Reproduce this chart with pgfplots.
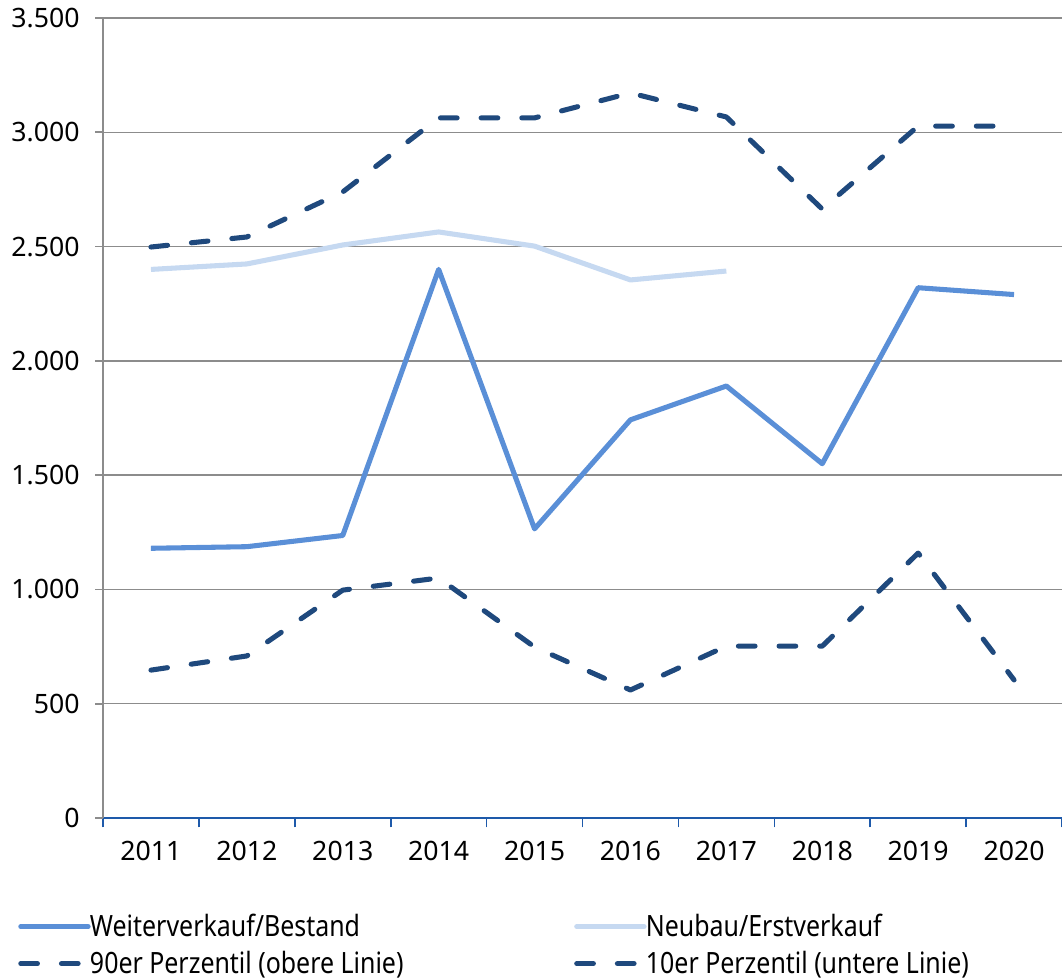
\documentclass[border=0pt]{standalone}
\usepackage{pgfplots}
\pgfplotsset{compat=1.18}
\usepackage{fontspec}
\setmainfont{Noto Sans}
\newfontfamily\legfont[FakeStretch=0.85]{Noto Sans}
\definecolor{weiter}{RGB}{90,143,215}
\definecolor{neubau}{RGB}{198,217,241}
\definecolor{perz}{RGB}{31,73,125}
\definecolor{xax}{RGB}{30,90,170}
\definecolor{gridc}{RGB}{140,140,140}
\begin{document}
\begin{tikzpicture}[x=1pt,y=1pt]
\path[use as bounding box] (0,0) rectangle (796.5,734.25);
\begin{axis}[
  at={(77.25pt,120.75pt)}, anchor=south west,
  scale only axis, width=719.25pt, height=600pt,
  xmin=0.5, xmax=10.5, ymin=0, ymax=3500,
  axis x line*=bottom, axis y line*=left,
  x axis line style={draw=xax, line width=1.5pt},
  y axis line style={draw=gridc, line width=1.2pt},
  xtick={1,...,10},
  xticklabels={2011,2012,2013,2014,2015,2016,2017,2018,2019,2020},
  major x tick style={draw=none},
  minor xtick={0.5,1.5,...,10.5},
  minor x tick style={draw=xax, line width=1.2pt},
  minor tick length=7pt,
  xtick align=outside,
  ytick={0,500,...,3500},
  ytick align=outside,
  major tick length=6pt,
  y tick style={draw=gridc, line width=1.2pt},
  ymajorgrids,
  grid style={draw=gridc, line width=1pt},
  tick label style={font=\fontsize{20}{24}\selectfont, text=black},
  xticklabel style={yshift=-8pt},
  yticklabel style={xshift=-8pt},
  /pgf/number format/1000 sep={.},
  /pgf/number format/assume math mode=true,
  legend columns=2,
  legend cell align=left,
  legend style={at={(rel axis cs:-0.1074,-0.1135)}, anchor=north west, draw=none, fill=none,
    font=\legfont\fontsize{22}{26}\selectfont, row sep=5.5pt,
    /tikz/every odd column/.append style={column sep=-2.5pt},
    /tikz/every even column/.append style={column sep=115.5pt}},
  legend image code/.code={\path (0pt,0pt); \draw[#1, line cap=round] (10.5pt,0pt) -- (61pt,0pt);},
  clip=false,
]
\addplot[weiter, line width=3.8pt, line join=round] coordinates {
 (1,1180) (2,1187) (3,1236) (4,2400) (5,1265) (6,1742) (7,1890) (8,1550) (9,2320) (10,2290)};
\addlegendentry{Weiterverkauf/Bestand}
\addplot[neubau, line width=3.8pt, line join=round] coordinates {
 (1,2400) (2,2424) (3,2507) (4,2564) (5,2502) (6,2354) (7,2393)};
\addlegendentry{Neubau/Erstverkauf}
\addplot[perz, line width=3.8pt, line cap=round, line join=round, dash pattern=on 12.5pt off 18pt] coordinates {
 (1,2498) (2,2542) (3,2739) (4,3063) (5,3063) (6,3172) (7,3067) (8,2664) (9,3027) (10,3027)};
\addlegendentry{90er Perzentil (obere Linie)}
\addplot[perz, line width=3.8pt, line cap=round, line join=round, dash pattern=on 12.5pt off 18pt] coordinates {
 (1,647) (2,709) (3,997) (4,1050) (5,748) (6,560) (7,752) (8,752) (9,1159) (10,604)};
\addlegendentry{10er Perzentil (untere Linie)}
\end{axis}
\end{tikzpicture}
\end{document}
